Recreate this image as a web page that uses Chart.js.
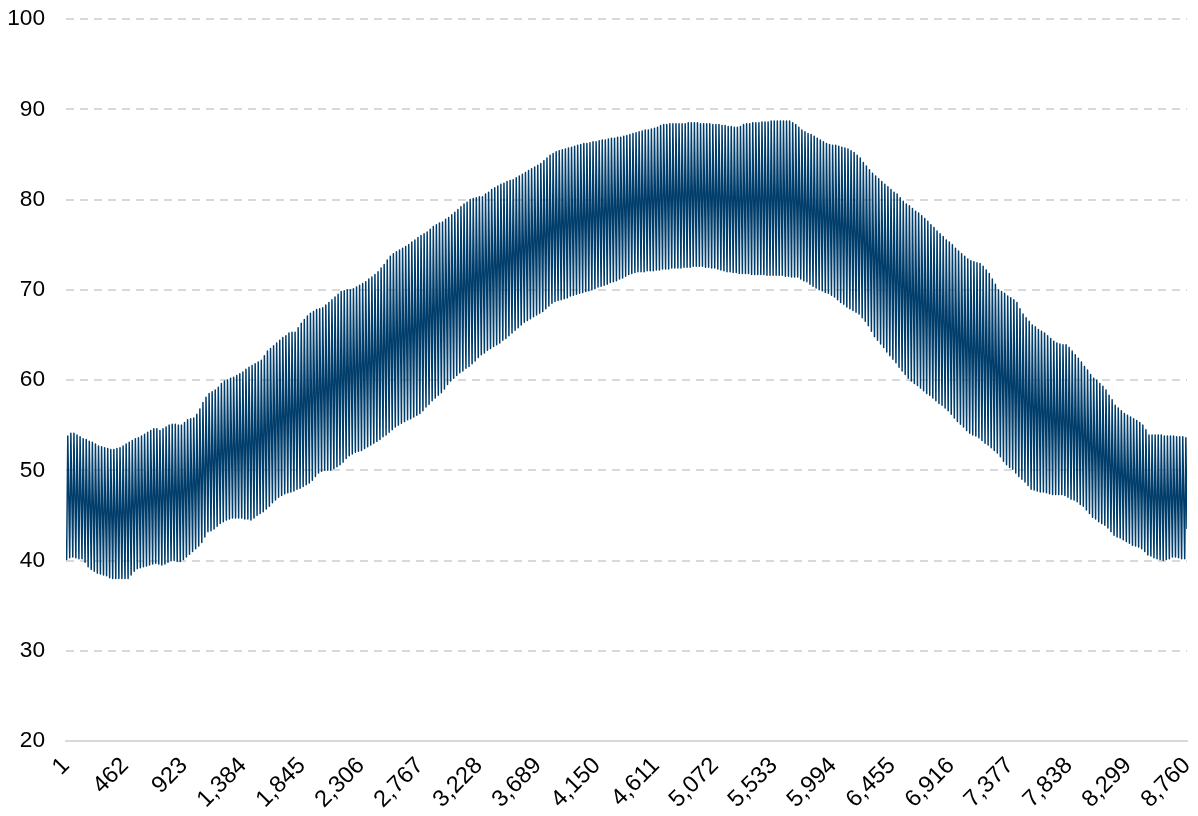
<!DOCTYPE html>
<html>
<head>
<meta charset="utf-8">
<script src="https://cdn.jsdelivr.net/npm/chart.js@4.4.0/dist/chart.umd.min.js"></script>
<style>
  html, body { margin: 0; padding: 0; background: #fff; }
  #wrap { width: 1198px; height: 816px; position: relative; }
</style>
</head>
<body>
<div id="wrap"><canvas id="temp"></canvas></div>
<script>
// daily highs, one per day (365)
const dailyHigh = [
  53.8, 54.1, 54.1, 53.9, 53.7, 53.5, 53.4, 53.2, 53.1, 52.9,
  52.7, 52.6, 52.5, 52.4, 52.3, 52.3, 52.4, 52.5, 52.7, 52.9,
  53.1, 53.3, 53.5, 53.6, 53.8, 54.0, 54.2, 54.4, 54.6, 54.6,
  54.4, 54.6, 54.8, 55.0, 55.1, 55.1, 55.0, 55.0, 55.3, 55.6,
  55.7, 55.8, 56.2, 56.8, 57.5, 58.1, 58.5, 58.7, 58.9, 59.2,
  59.6, 59.9, 60.0, 60.2, 60.3, 60.5, 60.7, 60.9, 61.2, 61.4,
  61.6, 61.8, 62.0, 62.2, 62.7, 63.2, 63.5, 63.8, 64.1, 64.4,
  64.7, 64.9, 65.2, 65.3, 65.3, 65.8, 66.3, 66.7, 67.1, 67.4,
  67.6, 67.8, 67.9, 68.0, 68.3, 68.6, 68.9, 69.2, 69.5, 69.8,
  69.9, 70.0, 70.0, 70.1, 70.3, 70.5, 70.7, 70.9, 71.2, 71.4,
  71.7, 72.0, 72.4, 72.8, 73.3, 73.7, 74.0, 74.2, 74.4, 74.6,
  74.8, 75.0, 75.3, 75.5, 75.8, 76.0, 76.2, 76.4, 76.7, 77.0,
  77.2, 77.4, 77.5, 77.8, 78.0, 78.3, 78.6, 78.9, 79.2, 79.5,
  79.7, 80.0, 80.1, 80.2, 80.3, 80.3, 80.6, 80.8, 81.1, 81.3,
  81.5, 81.7, 81.8, 82.0, 82.1, 82.2, 82.4, 82.6, 82.8, 83.0,
  83.2, 83.4, 83.6, 83.8, 84.0, 84.3, 84.6, 84.9, 85.1, 85.3,
  85.4, 85.5, 85.6, 85.7, 85.8, 85.9, 86.0, 86.1, 86.2, 86.2,
  86.3, 86.4, 86.4, 86.5, 86.6, 86.6, 86.7, 86.8, 86.8, 86.9,
  86.9, 87.0, 87.1, 87.2, 87.3, 87.4, 87.5, 87.6, 87.7, 87.7,
  87.8, 87.9, 88.0, 88.2, 88.3, 88.3, 88.4, 88.4, 88.4, 88.4,
  88.4, 88.4, 88.5, 88.5, 88.5, 88.5, 88.4, 88.4, 88.4, 88.4,
  88.3, 88.3, 88.3, 88.2, 88.2, 88.1, 88.1, 88.0, 88.0, 88.1,
  88.3, 88.4, 88.4, 88.5, 88.5, 88.5, 88.6, 88.6, 88.6, 88.7,
  88.7, 88.7, 88.7, 88.7, 88.7, 88.7, 88.5, 88.3, 88.0, 87.7,
  87.5, 87.3, 87.2, 87.0, 86.8, 86.6, 86.4, 86.2, 86.1, 86.0,
  86.0, 85.9, 85.8, 85.7, 85.6, 85.4, 85.2, 84.9, 84.6, 84.1,
  83.7, 83.3, 82.9, 82.6, 82.3, 82.0, 81.7, 81.4, 81.1, 80.8,
  80.6, 80.2, 79.8, 79.5, 79.3, 79.0, 78.7, 78.5, 78.2, 77.9,
  77.6, 77.2, 76.9, 76.5, 76.2, 75.9, 75.5, 75.3, 75.0, 74.6,
  74.3, 74.0, 73.7, 73.4, 73.2, 73.1, 73.0, 72.9, 72.6, 72.2,
  71.8, 71.2, 70.6, 70.0, 69.8, 69.6, 69.3, 69.1, 68.9, 68.6,
  67.9, 67.3, 66.9, 66.5, 66.1, 65.9, 65.6, 65.4, 65.2, 64.9,
  64.6, 64.3, 64.1, 64.0, 63.9, 63.9, 63.6, 63.2, 62.8, 62.4,
  62.0, 61.5, 61.1, 60.6, 60.2, 60.0, 59.6, 59.3, 58.9, 58.3,
  57.8, 57.2, 56.9, 56.6, 56.3, 56.1, 55.9, 55.7, 55.5, 55.3,
  55.0, 54.5, 53.9, 53.9, 53.9, 53.9, 53.9, 53.8, 53.8, 53.8,
  53.8, 53.7, 53.7, 53.7, 53.6
];

// daily lows (365)
const dailyLow = [
  40.1, 40.3, 40.4, 40.3, 40.2, 40.2, 39.8, 39.3, 39.0, 38.8,
  38.6, 38.5, 38.4, 38.3, 38.1, 38.0, 38.0, 38.0, 38.0, 38.0,
  38.0, 38.4, 38.8, 39.1, 39.2, 39.3, 39.4, 39.5, 39.6, 39.7,
  39.6, 39.5, 39.6, 39.8, 40.0, 40.0, 39.9, 39.9, 40.1, 40.4,
  40.7, 41.0, 41.3, 41.6, 42.0, 42.6, 43.2, 43.3, 43.5, 43.8,
  44.1, 44.3, 44.5, 44.6, 44.7, 44.7, 44.7, 44.7, 44.6, 44.6,
  44.5, 44.7, 45.0, 45.2, 45.4, 45.7, 46.0, 46.4, 46.7, 47.0,
  47.2, 47.4, 47.5, 47.6, 47.7, 47.9, 48.0, 48.2, 48.4, 48.6,
  48.9, 49.3, 49.7, 49.9, 50.0, 50.0, 50.0, 50.2, 50.4, 50.6,
  50.9, 51.3, 51.6, 51.8, 52.0, 52.1, 52.2, 52.4, 52.6, 52.8,
  53.0, 53.2, 53.4, 53.7, 53.9, 54.2, 54.5, 54.8, 55.0, 55.2,
  55.4, 55.6, 55.7, 55.9, 56.1, 56.3, 56.6, 57.0, 57.3, 57.7,
  58.0, 58.3, 58.6, 59.0, 59.5, 59.9, 60.2, 60.5, 60.8, 61.0,
  61.3, 61.5, 61.8, 62.1, 62.5, 62.8, 63.0, 63.3, 63.5, 63.7,
  63.9, 64.1, 64.4, 64.6, 64.9, 65.2, 65.5, 65.8, 66.1, 66.4,
  66.6, 66.8, 67.0, 67.2, 67.4, 67.6, 67.9, 68.2, 68.5, 68.7,
  68.8, 68.9, 69.0, 69.1, 69.3, 69.4, 69.5, 69.6, 69.7, 69.8,
  69.9, 70.0, 70.1, 70.3, 70.4, 70.5, 70.6, 70.8, 70.9, 71.0,
  71.2, 71.3, 71.5, 71.7, 71.8, 71.9, 72.0, 72.0, 72.0, 72.1,
  72.1, 72.1, 72.2, 72.2, 72.3, 72.3, 72.3, 72.4, 72.4, 72.4,
  72.4, 72.5, 72.5, 72.5, 72.6, 72.6, 72.6, 72.6, 72.5, 72.5,
  72.4, 72.4, 72.3, 72.2, 72.1, 72.0, 72.0, 71.9, 71.9, 71.8,
  71.8, 71.8, 71.8, 71.7, 71.7, 71.7, 71.7, 71.7, 71.6, 71.6,
  71.6, 71.6, 71.6, 71.6, 71.5, 71.5, 71.4, 71.4, 71.4, 71.2,
  71.0, 70.9, 70.6, 70.4, 70.2, 70.0, 69.9, 69.7, 69.6, 69.4,
  69.2, 68.9, 68.6, 68.4, 68.1, 67.9, 67.7, 67.5, 67.3, 66.9,
  66.5, 66.0, 65.4, 64.8, 64.4, 64.0, 63.6, 63.1, 62.7, 62.3,
  61.9, 61.4, 61.0, 60.6, 60.2, 59.9, 59.6, 59.4, 59.1, 58.8,
  58.5, 58.3, 58.0, 57.7, 57.4, 57.2, 56.9, 56.6, 56.2, 55.8,
  55.4, 55.1, 54.8, 54.4, 54.1, 53.9, 53.8, 53.6, 53.3, 53.0,
  52.8, 52.5, 52.2, 51.9, 51.5, 51.0, 50.6, 50.3, 50.1, 49.7,
  49.3, 49.0, 48.7, 48.3, 47.9, 47.8, 47.7, 47.6, 47.6, 47.5,
  47.4, 47.3, 47.3, 47.3, 47.3, 47.2, 47.0, 46.8, 46.7, 46.5,
  46.2, 46.0, 45.6, 45.2, 44.8, 44.6, 44.3, 44.1, 43.9, 43.6,
  43.2, 42.8, 42.6, 42.5, 42.3, 42.1, 41.9, 41.7, 41.6, 41.5,
  41.3, 41.0, 40.6, 40.5, 40.3, 40.2, 40.1, 40.0, 40.1, 40.2,
  40.4, 40.4, 40.3, 40.2, 40.2
];

// first and last hourly readings
const firstHour = 42.3;
const lastHour = 43.5;
const lowHour = 6;    // hour of the day the low falls on
const highHour = 15;  // hour of the day the high falls on

// x tick labels shown under the axis
const xTickLabels = [1, 462, 923, 1384, 1845, 2306, 2767, 3228, 3689, 4150,
  4611, 5072, 5533, 5994, 6455, 6916, 7377, 7838, 8299, 8760];
const yTicks = { min: 20, max: 100, step: 10 };

// build hourly points from the daily extremes
const points = [{ x: 1, y: firstHour }];
dailyLow.forEach((lo, d) => {
  points.push({ x: d * 24 + lowHour, y: lo });
  points.push({ x: d * 24 + highHour, y: dailyHigh[d] });
});
points.push({ x: 8760, y: lastHour });

const FONT = "'Liberation Sans', Arial, sans-serif";
const ctx = document.getElementById('temp').getContext('2d');

const chart = new Chart(ctx, {
  type: 'line',
  data: {
    datasets: [{
      data: points,
      borderColor: '#003d6b',
      borderWidth: 1.5,
      borderJoinStyle: 'round',
      pointRadius: 0,
      tension: 0,
      fill: false,
    }]
  },
  options: {
    responsive: true,
    maintainAspectRatio: false,
    animation: false,
    parsing: false,
    normalized: true,
    layout: { padding: { left: 7, right: 11, top: 19, bottom: 0 } },
    plugins: {
      legend: { display: false },
      tooltip: { enabled: false },
    },
    scales: {
      x: {
        type: 'linear',
        min: 1,
        max: 8760,
        afterBuildTicks: (scale) => {
          scale.ticks = xTickLabels.map(v => ({ value: v }));
        },
        afterFit: (scale) => {
          scale.paddingLeft = 0;
          scale.paddingRight = 0;
          scale.height = 75;
        },
        grid: { display: false, drawTicks: false },
        border: { display: true, color: '#d9d9d9', width: 2 },
        ticks: {
          autoSkip: false,
          minRotation: 45,
          maxRotation: 45,
          padding: 11,
          color: '#000',
          font: { family: FONT, size: 23.5 },
          callback: (v) => Number(v).toLocaleString('en-US'),
        },
      },
      y: {
        min: yTicks.min,
        max: yTicks.max,
        afterFit: (scale) => {
          scale.width = 59;
          scale.paddingTop = 0;
          scale.paddingBottom = 0;
        },
        grid: { color: '#d9d9d9', lineWidth: 2, drawTicks: false },
        border: { display: false, dash: [8, 6] },
        ticks: {
          stepSize: yTicks.step,
          padding: 21,
          color: '#000',
          font: { family: FONT, size: 22.7 },
        },
      },
    },
  },
});
</script>
</body>
</html>
